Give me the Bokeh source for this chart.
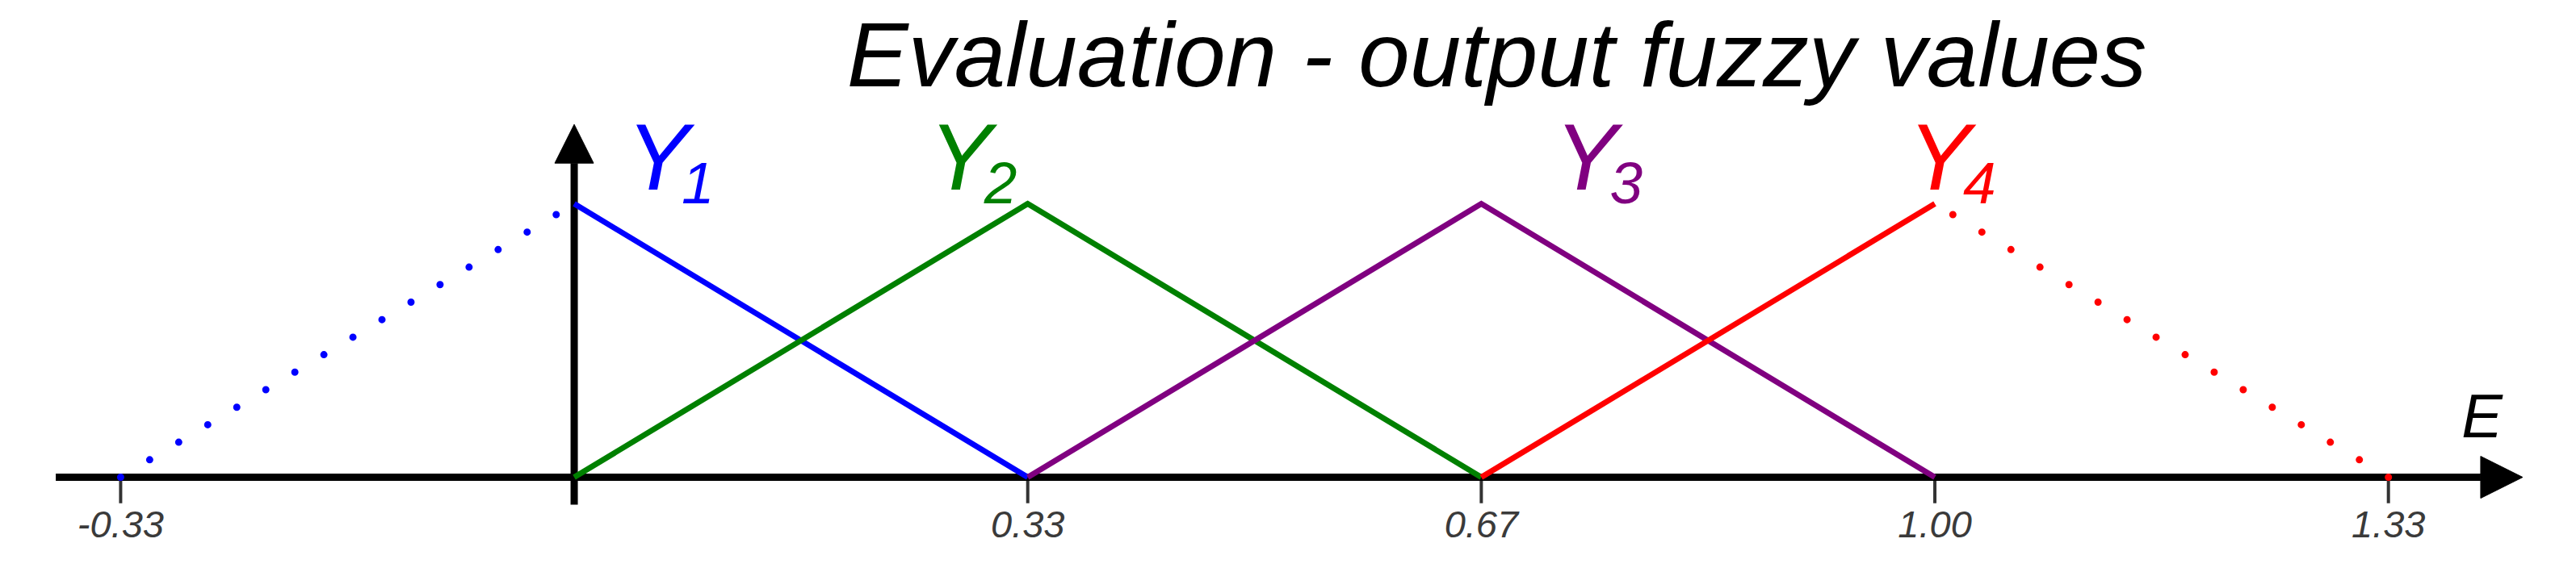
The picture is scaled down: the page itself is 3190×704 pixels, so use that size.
from bokeh.plotting import figure
from bokeh.models import Range1d, Arrow, NormalHead
from bokeh.core.properties import value
from bokeh.embed import file_html
from bokeh.resources import INLINE

# ---- data ----
third = 1.0 / 3.0
y1_x = [0.0, third]
y1_mu = [1.0, 0.0]
y1_dot_x = [-third, 0.0]
y1_dot_mu = [0.0, 1.0]
y2_x = [0.0, third, 2 * third]
y2_mu = [0.0, 1.0, 0.0]
y3_x = [third, 2 * third, 1.0]
y3_mu = [0.0, 1.0, 0.0]
y4_x = [2 * third, 1.0]
y4_mu = [0.0, 1.0]
y4_dot_x = [4 * third, 1.0]
y4_dot_mu = [0.0, 1.0]

peak_x = [0.0, third, 2 * third, 1.0]
set_letters = ["Y", "Y", "Y", "Y"]
set_subscripts = ["1", "2", "3", "4"]
set_colors = ["#0000ff", "#008000", "#800080", "#ff0000"]

tick_values = [-third, third, 2 * third, 1.0, 4 * third]
tick_labels = ["-0.33", "0.33", "0.67", "1.00", "1.33"]

title_text = "Evaluation - output fuzzy values"
axis_name = "E"

# ---- figure ----
W, H = 3174, 688
p = figure(width=W, height=H, output_backend="svg", toolbar_location=None,
           x_range=Range1d(-0.4217, 1.4620), y_range=Range1d(-0.2861, 1.7434),
           min_border=0)
p.axis.visible = False
p.grid.visible = False
p.outline_line_color = None
p.background_fill_color = "white"
p.border_fill_color = "white"

FONT = value("Liberation Sans")

# axes with arrows (drawn beneath the curves)
p.add_layout(Arrow(x_start=-0.381, y_start=0, x_end=1.432, y_end=0,
                   line_color="black", line_width=9, level="underlay",
                   end=NormalHead(size=52, fill_color="black", line_color="black", line_width=1)))
p.add_layout(Arrow(x_start=0, y_start=-0.100, x_end=0, y_end=1.290,
                   line_color="black", line_width=9, level="underlay",
                   end=NormalHead(size=48, fill_color="black", line_color="black", line_width=1)))

# ticks
p.segment(x0=tick_values, y0=[0.0] * len(tick_values), x1=tick_values,
          y1=[-0.095] * len(tick_values), line_color="#333333", line_width=4,
          level="underlay")
p.text(x=tick_values, y=[0.0] * len(tick_values), text=tick_labels,
       y_offset=58, text_align="center", text_baseline="alphabetic",
       text_font=FONT, text_font_style="italic", text_font_size=value("47px"),
       text_color="#3a3a3a")

# membership functions
lw = 7
p.line(y1_dot_x, y1_dot_mu, line_color=set_colors[0], line_width=9,
       line_dash="0 42", line_cap="round")
p.line(y4_dot_x, y4_dot_mu, line_color=set_colors[3], line_width=9,
       line_dash="0 42", line_cap="round")
p.line(y1_x, y1_mu, line_color=set_colors[0], line_width=lw)
p.line(y2_x, y2_mu, line_color=set_colors[1], line_width=lw, line_join="miter")
p.line(y3_x, y3_mu, line_color=set_colors[2], line_width=lw, line_join="miter")
p.line(y4_x, y4_mu, line_color=set_colors[3], line_width=lw)

# set labels (Y with subscript)
label_dx = [65, -122, 91, -33]
for i in range(4):
    p.text(x=[peak_x[i]], y=[1.0], text=[set_letters[i]],
           x_offset=label_dx[i], y_offset=-58,
           text_align="left", text_baseline="alphabetic",
           text_font=FONT, text_font_style="italic", text_font_size=value("116px"),
           text_color=set_colors[i])
    p.text(x=[peak_x[i]], y=[1.0], text=[set_subscripts[i]],
           x_offset=label_dx[i] + 68, y_offset=-26,
           text_align="left", text_baseline="alphabetic",
           text_font=FONT, text_font_style="italic", text_font_size=value("73px"),
           text_color=set_colors[i])

# axis name
p.text(x=[1.387], y=[0.0], text=[axis_name], y_offset=-76,
       text_align="left", text_baseline="alphabetic",
       text_font=FONT, text_font_style="italic", text_font_size=value("76px"),
       text_color="black")

# title
p.text(x=[0.678], y=[1.457], text=[title_text], y_offset=-30,
       text_align="center", text_baseline="alphabetic",
       text_font=FONT, text_font_style="italic", text_font_size=value("114px"),
       text_color="black")

open("out.html", "w").write(file_html(p, INLINE))
